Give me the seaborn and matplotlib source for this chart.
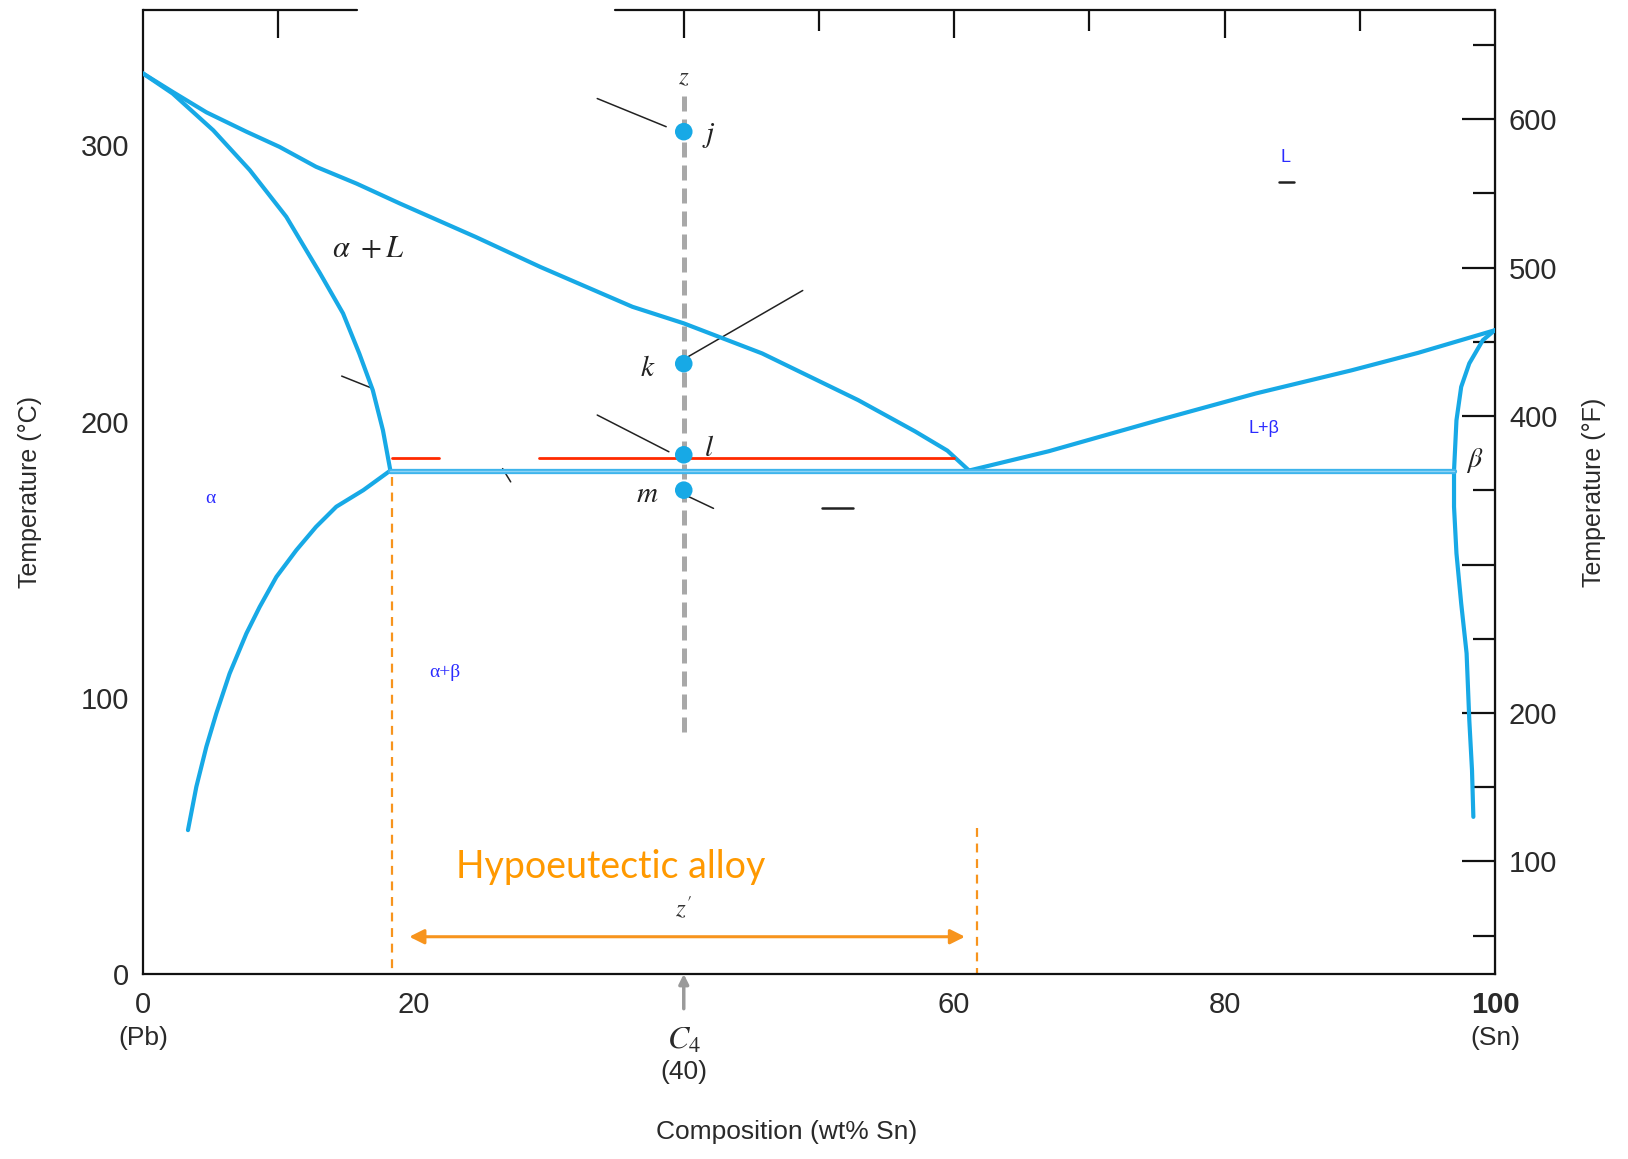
import numpy as np
import pandas as pd
import matplotlib
matplotlib.use("Agg")
import matplotlib.pyplot as plt
import matplotlib.transforms as mtransforms
from matplotlib.ticker import FixedLocator
import seaborn as sns

# ---------------- data (wt% Sn, temperature in degC) ----------------
liq_left_x = [0, 2.2, 4.7, 7.65, 10.1, 12.8, 15.8, 19.0, 24.6, 29.4, 36.2, 40.0,
              45.8, 52.9, 57.1, 59.5, 61.1]
liq_left_t = [326.1, 319.4, 312.0, 305.0, 299.5, 292.3, 286.2, 279.0, 266.9, 256.0,
              241.6, 235.6, 224.7, 207.8, 196.5, 189.5, 182.3]

sol_left_x = [0, 2.2, 5.2, 7.9, 10.6, 13.1, 14.8, 16.0, 17.0, 17.75, 18.3]
sol_left_t = [326.1, 318.8, 305.5, 291.1, 274.2, 253.7, 239.2, 224.7, 211.4, 196.9, 182.3]

solv_left_x = [18.3, 16.3, 14.3, 12.8, 11.35, 9.87, 8.63, 7.65, 6.41, 5.43, 4.69, 3.95, 3.33]
solv_left_t = [182.3, 175.2, 169.2, 161.9, 153.5, 143.8, 132.9, 123.3, 108.8, 94.4, 82.3,
               67.8, 52.1]

liq_right_x = [61.1, 67.0, 75.3, 82.3, 89.4, 94.3, 99.98]
liq_right_t = [182.3, 189.3, 200.8, 210.2, 218.6, 224.9, 233.1]

sol_right_x = [99.98, 99.1, 98.1, 97.5, 97.15, 96.97]
sol_right_t = [233.1, 229.5, 221.1, 212.6, 200.5, 182.3]

solv_right_x = [96.97, 96.97, 97.15, 97.5, 97.9, 98.1, 98.3, 98.4]
solv_right_t = [182.3, 169.2, 152.3, 134.2, 116.1, 91.9, 73.8, 56.9]

eutectic_x = [18.3, 96.97]
eutectic_t = [182.3, 182.3]

red_seg1_x = [18.4, 21.9]
red_seg2_x = [29.3, 60.0]
red_t = 186.7

alloy_x = 40                      # C4 = 40 wt% Sn
path_t = [318, 85]                # cooling path z -> z'
point_t = [305.0, 221.0, 188.0, 175.2]
point_labels = ['j', 'k', 'l', 'm']

hypo_bounds = [18.4, 61.7]        # orange dashed limits
hypo_top = [180.0, 53.0]
hypo_arrow = [19.7, 60.8]
hypo_arrow_t = 13.5

x_major = [0, 20, 40, 60, 80, 90, 100]
x_major_labels = ['0', '20', '', '60', '80', '', '100']
x_minor = [10, 30, 50, 70]
top_major = [10, 40, 60, 80]
top_minor = [50, 70, 90]
y_major = [0, 100, 200, 300]
y_minor = [50, 150, 250]
f_major = [100, 200, 300, 400, 500, 600]
f_major_labels = ['100', '200', '', '400', '500', '600']
f_minor = [50, 150, 250, 350, 450, 550, 650]

# ---------------- style ----------------
sns.set_style("white")
plt.rcParams['font.family'] = ['Liberation Sans', 'DejaVu Sans']
plt.rcParams['mathtext.fontset'] = 'stix'

BLUE = '#17A9E6'
ORANGE = '#F7941D'
TXT = '#2a2a2a'
LBLUE = '#2b2bff'

fig = plt.figure(figsize=(16.28, 11.59), dpi=100)
ax = fig.add_axes([0.0878, 0.1596, 0.8305, 0.8314])
ax.set_xlim(0, 100)
ax.set_ylim(0, 348.9)

# phase boundaries
for cx, ct in [(liq_left_x, liq_left_t), (sol_left_x, sol_left_t),
               (solv_left_x, solv_left_t), (liq_right_x, liq_right_t),
               (sol_right_x, sol_right_t), (solv_right_x, solv_right_t)]:
    sns.lineplot(x=cx, y=ct, sort=False, estimator=None, ax=ax,
                 color=BLUE, lw=3.0, zorder=3)

sns.lineplot(x=eutectic_x, y=eutectic_t, sort=False, estimator=None, ax=ax,
             color='#3DB4EC', lw=3.8, zorder=3)
sns.lineplot(x=eutectic_x, y=eutectic_t, sort=False, estimator=None, ax=ax,
             color='#8FD3F5', lw=1.0, zorder=3)

# red line above eutectic
for seg in (red_seg1_x, red_seg2_x):
    sns.lineplot(x=seg, y=[red_t, red_t], sort=False, estimator=None, ax=ax,
                 color='#FF2A00', lw=2.0, zorder=3)

# cooling path
sns.lineplot(x=[alloy_x, alloy_x], y=path_t, sort=False, estimator=None, ax=ax,
             color='#A8A8A8', lw=3.6, linestyle=(0, (3, 1.6)), zorder=2)
sns.scatterplot(x=[alloy_x] * len(point_t), y=point_t, ax=ax, s=160,
                color=BLUE, edgecolor='none', zorder=5)

offsets = {'j': (18, -3), 'k': (-26, -3), 'l': (18, 5), 'm': (-26, -3)}
for lbl, t in zip(point_labels, point_t):
    dx, dy = offsets[lbl]
    ax.annotate(f'${lbl}$', (alloy_x, t), xytext=(dx, dy), textcoords='offset points',
                ha='center', va='center', fontsize=21, color='#222')

# leader lines (from original figure)
leaders = [([33.6, 38.7], [317.0, 306.8]), ([40.1, 48.8], [222.9, 247.5]),
           ([33.6, 38.9], [202.4, 189.1]), ([40.3, 42.2], [173.0, 168.6]),
           ([14.7, 17.0], [216.5, 212.0]), ([26.6, 27.2], [183.0, 178.2])]
for lx, lt in leaders:
    ax.plot(lx, lt, color='#222', lw=1.1, zorder=2)
ax.plot([50.2, 52.5], [168.8, 168.8], color='#222', lw=1.8, zorder=2)
ax.plot([84.0, 85.1], [286.8, 286.8], color='#222', lw=1.8, zorder=2)

ax.text(alloy_x, 324.8, '$z$', ha='center', va='center', fontsize=18, color='#333')
ax.text(alloy_x, 23.7, "$z'$", ha='center', va='center', fontsize=18, color='#333')

# hypoeutectic range
for xb, tt in zip(hypo_bounds, hypo_top):
    sns.lineplot(x=[xb, xb], y=[tt, 0], sort=False, estimator=None, ax=ax,
                 color=ORANGE, lw=1.6, linestyle=(0, (4, 3)), zorder=2)
ax.annotate('', xy=(hypo_arrow[1], hypo_arrow_t), xytext=(hypo_arrow[0], hypo_arrow_t),
            arrowprops=dict(arrowstyle='<|-|>', color=ORANGE, lw=2.2,
                            mutation_scale=22, shrinkA=0, shrinkB=0))
ax.text(34.6, 38.7, 'Hypoeutectic alloy', ha='center', va='center', fontsize=27,
        color='#FF9900', family=['Lato', 'DejaVu Sans'])

# region labels
ax.text(14.0, 262.4, r'$\alpha\ +L$', ha='left', va='center', fontsize=22, color='#222')
ax.text(98.5, 186.1, r'$\beta$', ha='center', va='center', fontsize=20, color='#222')
ax.text(84.5, 295.5, 'L', ha='center', va='center', fontsize=13, color=LBLUE)
ax.text(82.9, 197.4, 'L+β', ha='center', va='center', fontsize=13, color=LBLUE)
ax.text(5.0, 172.2, 'α', ha='center', va='center', fontsize=14, color=LBLUE,
        family=['Liberation Serif', 'DejaVu Serif'])
ax.text(22.3, 109.0, 'α+β', ha='center', va='center', fontsize=14, color=LBLUE,
        family=['Liberation Serif', 'DejaVu Serif'])

# ---------------- axes, ticks ----------------
for s in ('left', 'bottom', 'right'):
    ax.spines[s].set_color('#111')
    ax.spines[s].set_linewidth(1.6)
ax.spines['top'].set_visible(False)
btr = mtransforms.blended_transform_factory(ax.transData, ax.transAxes)
ax.plot([0, 15.8], [1, 1], transform=btr, color='#111', lw=1.6, clip_on=False)
ax.plot([34.9, 100], [1, 1], transform=btr, color='#111', lw=1.6, clip_on=False)

ax.set_xticks(x_major, labels=x_major_labels)
ax.xaxis.set_minor_locator(FixedLocator(x_minor))
ax.set_yticks(y_major)
ax.yaxis.set_minor_locator(FixedLocator(y_minor))
ax.tick_params(axis='both', which='major', direction='in', length=24, width=1.6,
               color='#111', labelsize=21, labelcolor=TXT)
ax.tick_params(axis='both', which='minor', direction='in', length=15, width=1.6, color='#111')
ax.tick_params(axis='x', which='both', top=False, pad=12)
ax.tick_params(axis='y', which='both', right=False, pad=10)
ax.xaxis.get_major_ticks()[2].tick1line.set_markeredgewidth(3.5)
for lab in ax.get_xticklabels():
    if lab.get_text() == '100':
        lab.set_fontweight('bold')

secx = ax.secondary_xaxis('top')
secx.set_xticks(top_major)
secx.xaxis.set_minor_locator(FixedLocator(top_minor))
secx.tick_params(axis='x', which='major', direction='in', length=20, width=1.6,
                 color='#111', labeltop=False, labelbottom=False)
secx.tick_params(axis='x', which='minor', direction='in', length=15, width=1.6, color='#111')
for s in secx.spines.values():
    s.set_visible(False)
for tk in secx.xaxis.get_major_ticks():
    if tk.get_loc() == 40:
        tk.tick1line.set_markeredgewidth(3.5)
        tk.tick2line.set_markeredgewidth(3.5)


def c2f(c):
    return 50 + (np.asarray(c) - 13.9) / 0.5375


def f2c(f):
    return 13.9 + (np.asarray(f) - 50) * 0.5375


secy = ax.secondary_yaxis('right', functions=(c2f, f2c))
secy.set_yticks(f_major, labels=f_major_labels)
secy.yaxis.set_minor_locator(FixedLocator(f_minor))
secy.tick_params(axis='y', which='major', direction='in', length=24, width=1.6,
                 color='#111', labelsize=21, labelcolor=TXT, pad=10)
secy.tick_params(axis='y', which='minor', direction='in', length=16, width=1.6, color='#111')

ax.text(1.073, 0.5, 'Temperature (°F)', transform=ax.transAxes, rotation=90,
        ha='center', va='center', fontsize=18, color=TXT)
ax.text(-0.0835, 0.5, 'Temperature (°C)', transform=ax.transAxes, rotation=90,
        ha='center', va='center', fontsize=18, color=TXT)
ax.set_ylabel('')
ax.set_xlabel('')

# composition annotations below axis
ax.text(0.476, -0.164, 'Composition (wt% Sn)', transform=ax.transAxes,
        ha='center', va='center', fontsize=19, color=TXT)
ax.text(0, -0.0664, '(Pb)', transform=btr, ha='center', va='center', fontsize=19, color=TXT)
ax.text(100, -0.0664, '(Sn)', transform=btr, ha='center', va='center', fontsize=19, color=TXT)
ax.text(alloy_x, -0.0695, '$C_4$', transform=btr, ha='center', va='center', fontsize=23, color=TXT)
ax.text(alloy_x, -0.102, '(40)', transform=btr, ha='center', va='center', fontsize=19, color=TXT)
ax.annotate('', xy=(alloy_x, 0), xytext=(alloy_x, -0.036), xycoords=btr, textcoords=btr,
            annotation_clip=False,
            arrowprops=dict(arrowstyle='-|>', color='#9a9a9a', lw=2.5,
                            mutation_scale=14, shrinkA=0, shrinkB=0))

fig.savefig('out.png', dpi=100, facecolor='white')
